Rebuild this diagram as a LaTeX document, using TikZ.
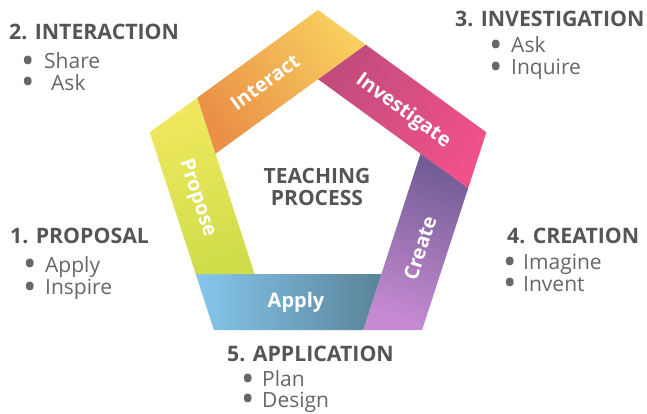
\documentclass[tikz,border=0pt]{standalone}
\usepackage{fontspec}
\usepackage{graphicx}
\setmainfont{Open Sans}
\usetikzlibrary{calc}

\definecolor{headgray}{HTML}{555555}
\definecolor{itemgray}{HTML}{676767}
\definecolor{orangeA}{HTML}{EA9047}
\definecolor{orangeB}{HTML}{F8CE5E}
\definecolor{pinkA}{HTML}{C24C7C}
\definecolor{pinkB}{HTML}{F0518A}
\definecolor{purpleA}{HTML}{715C94}
\definecolor{purpleB}{HTML}{C68AD2}
\definecolor{blueA}{HTML}{5A8398}
\definecolor{blueB}{HTML}{86C7EE}
\definecolor{yellowA}{HTML}{CFDD4B}
\definecolor{yellowB}{HTML}{F0E85E}

% a larger list bullet followed by a fixed gap
\newcommand{\listdot}[1][19pt]{\makebox[#1][l]{\hspace*{-4pt}\raisebox{-4.5pt}{\scalebox{1.7}{•}}}}

\begin{document}
\begin{tikzpicture}[x=1pt,y=1pt,
  head/.style={anchor=base west, inner sep=0pt, text=headgray,
    font=\bfseries\fontsize{21.3}{21.3}\selectfont},
  item/.style={anchor=base west, inner sep=0pt, text=itemgray,
    font=\fontsize{21}{21}\selectfont},
  bandlabel/.style={inner sep=0pt, text=white,
    font=\bfseries\fontsize{20}{20}\selectfont},
  centrelabel/.style={inner sep=0pt, text=headgray, align=center,
    font=\bfseries\fontsize{21}{22}\selectfont},
]
\useasboundingbox (0,0) rectangle (647,414);
\fill[white] (0,0) rectangle (647,414);

% outer and inner pentagon corners (clockwise from the top)
\coordinate (c) at (318,227);
\coordinate (v0) at ($(c)+(90:177)$);
\coordinate (v1) at ($(c)+(18:177)$);
\coordinate (v2) at ($(c)+(-54:177)$);
\coordinate (v3) at ($(c)+(-126:177)$);
\coordinate (v4) at ($(c)+(162:177)$);
\coordinate (w0) at ($(c)+(90:107.78)$);
\coordinate (w1) at ($(c)+(18:107.78)$);
\coordinate (w2) at ($(c)+(-54:107.78)$);
\coordinate (w3) at ($(c)+(-126:107.78)$);
\coordinate (w4) at ($(c)+(162:107.78)$);

% where each band starts on its outer edge
\coordinate (a0) at ($(v0)!0.283!(v1)$);
\coordinate (a1) at ($(v1)!0.283!(v2)$);
\coordinate (a2) at ($(v2)!0.283!(v3)$);
\coordinate (a3) at ($(v3)!0.283!(v4)$);
\coordinate (a4) at ($(v4)!0.283!(v0)$);

% the five bands, each wrapping the corner at its far end
\shade[top color=pinkB, bottom color=pinkA, shading angle=-126]
  (w0) -- (a0) -- (v1) -- (a1) -- cycle;
\shade[top color=purpleA, bottom color=purpleB, shading angle=-18]
  (w1) -- (a1) -- (v2) -- (a2) -- cycle;
\shade[left color=blueB, right color=blueA]
  (w2) -- (a2) -- (v3) -- (a3) -- cycle;
\shade[top color=yellowB, bottom color=yellowA, shading angle=18]
  (w3) -- (a3) -- (v4) -- (a4) -- cycle;
\shade[top color=orangeB, bottom color=orangeA, shading angle=-54]
  (w4) -- (a4) -- (v0) -- (a0) -- cycle;

% band captions
\node[bandlabel, rotate=36]  (interact)    at (265,332) {Interact};
\node[bandlabel, rotate=-36] (investigate) at (403,303) {Investigate};
\node[bandlabel, rotate=72]  (create)      at (420,166) {Create};
\node[bandlabel]             (apply)       at (296,112) {Apply};
\node[bandlabel, rotate=-72] (propose)     at (197,216) {Propose};

\node[centrelabel] (centre) at (317,227) {TEACHING\\PROCESS};

% stage headings and their points
\node[head] (h2) at (9,374.5) {2. INTERACTION};
\node[item] (h2a) at (25,345) {\listdot Share};
\node[item] (h2b) at (25,323.5) {\listdot[26pt]Ask};

\node[head] (h3) at (455,387.5) {3. INVESTIGATION};
\node[item] (h3a) at (493,361) {\listdot[18pt]Ask};
\node[item] (h3b) at (493,339) {\listdot[18pt]Inquire};

\node[head] (h1) at (10,170.7) {1. PROPOSAL};
\node[item] (h1a) at (27,141.5) {\listdot[18pt]Apply};
\node[item] (h1b) at (27,119) {\listdot[18pt]Inspire};

\node[head] (h4) at (507,170.7) {4. CREATION};
\node[item] (h4a) at (507,144) {\listdot[16pt]Imagine};
\node[item] (h4b) at (507,122.5) {\listdot[16pt]Invent};

\node[head] (h5) at (227,52.3) {5. APPLICATION};
\node[item] (h5a) at (245,27) {\listdot[17pt]Plan};
\node[item] (h5b) at (245,6.5) {\listdot[17pt]Design};
\end{tikzpicture}
\end{document}
